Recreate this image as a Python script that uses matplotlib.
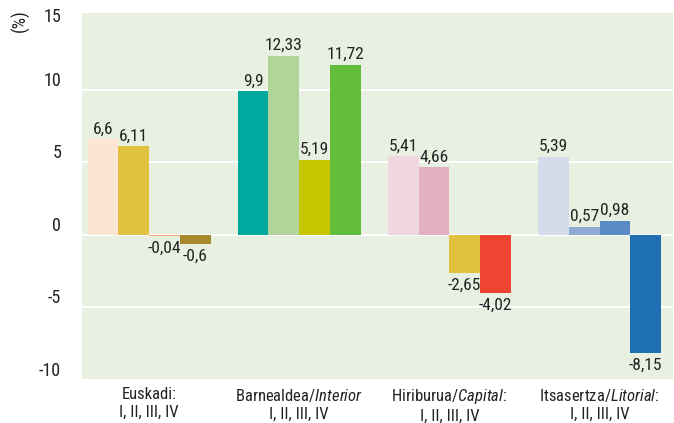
import numpy as np
from matplotlib import pyplot as plt, font_manager

# pick the narrowest family that is installed
installed = {f.name for f in font_manager.fontManager.ttflist}
font = 'DejaVu Sans'
for name in ['Roboto Condensed', 'Liberation Sans Narrow', 'Open Sans Condensed', 'Liberation Sans']:
    if name in installed:
        font = name
        break

plt.rcParams['font.family'] = [font, 'DejaVu Sans']
plt.rcParams['mathtext.fontset'] = 'custom'
plt.rcParams['mathtext.rm'] = font
plt.rcParams['mathtext.it'] = font + ':italic'

groups = ['Euskadi:\nI, II, III, IV',
          'Barnealdea/$\\it{Interior}$\nI, II, III, IV',
          'Hiriburua/$\\it{Capital}$:\nI, II, III, IV',
          'Itsasertza/$\\it{Litorial}$:\nI, II, III, IV']
values = [
    [6.6, 6.11, -0.04, -0.6],
    [9.9, 12.33, 5.19, 11.72],
    [5.41, 4.66, -2.65, -4.02],
    [5.39, 0.57, 0.98, -8.15],
]
bar_colors = [
    ['#fde5d3', '#e3c140', '#f4a46c', '#a68a2b'],
    ['#00a99d', '#b0d49a', '#c8c600', '#62be3a'],
    ['#f0d6de', '#e2b0c0', '#e3c140', '#ee4431'],
    ['#d4dceb', '#8faad3', '#5b8bc2', '#1f70b2'],
]
yticks = [-10, -5, 0, 5, 10, 15]

fig = plt.figure(figsize=(6.74, 4.23), dpi=100)
ax = fig.add_axes([0.1217, 0.1017, 0.877, 0.8676])
ax.set_facecolor('#e8f0e1')

fs = 12.5
w = 0.205
x = np.arange(len(groups))
for g, (vals, cols) in enumerate(zip(values, bar_colors)):
    for i, (v, c) in enumerate(zip(vals, cols)):
        xi = x[g] + (i - 1.5) * w
        ax.bar(xi, v, width=w, color=c, zorder=3)
        label = str(v).replace('.', ',')
        if v >= 0:
            ax.annotate(label, (xi, v), xytext=(0, 2), textcoords='offset points',
                        ha='center', va='bottom', fontsize=fs, color='#222222')
        else:
            ax.annotate(label, (xi, v), xytext=(0, -3.5), textcoords='offset points',
                        ha='center', va='top', fontsize=fs, color='#222222')

ax.set_xlim(-0.447, 3.49)
ax.set_ylim(-10, 15.3)
ax.set_yticks(yticks)
ax.set_yticklabels([str(t) for t in yticks], fontsize=fs + 0.5, color='#222222')
for t, lab in zip(yticks, ax.get_yticklabels()):
    lab.set_va('center' if t == 15 else 'bottom')
ax.set_xticks(x)
ax.set_xticklabels(groups, fontsize=fs - 0.5, color='#222222', linespacing=1.25)
ax.tick_params(axis='y', length=0, pad=15)
ax.tick_params(axis='x', length=0, pad=5)
for s in ax.spines.values():
    s.set_visible(False)
ax.grid(axis='y', color='white', linewidth=1.5, zorder=1)
ax.get_ygridlines()[-1].set_visible(False)
ax.set_axisbelow(True)
ax.axhline(0, color='white', linewidth=1.5, zorder=2)

fig.text(0.03, 0.977, '(%)', rotation=90, ha='center', va='top', fontsize=fs + 0.5, color='#222222')

fig.savefig('out.png', dpi=100)
